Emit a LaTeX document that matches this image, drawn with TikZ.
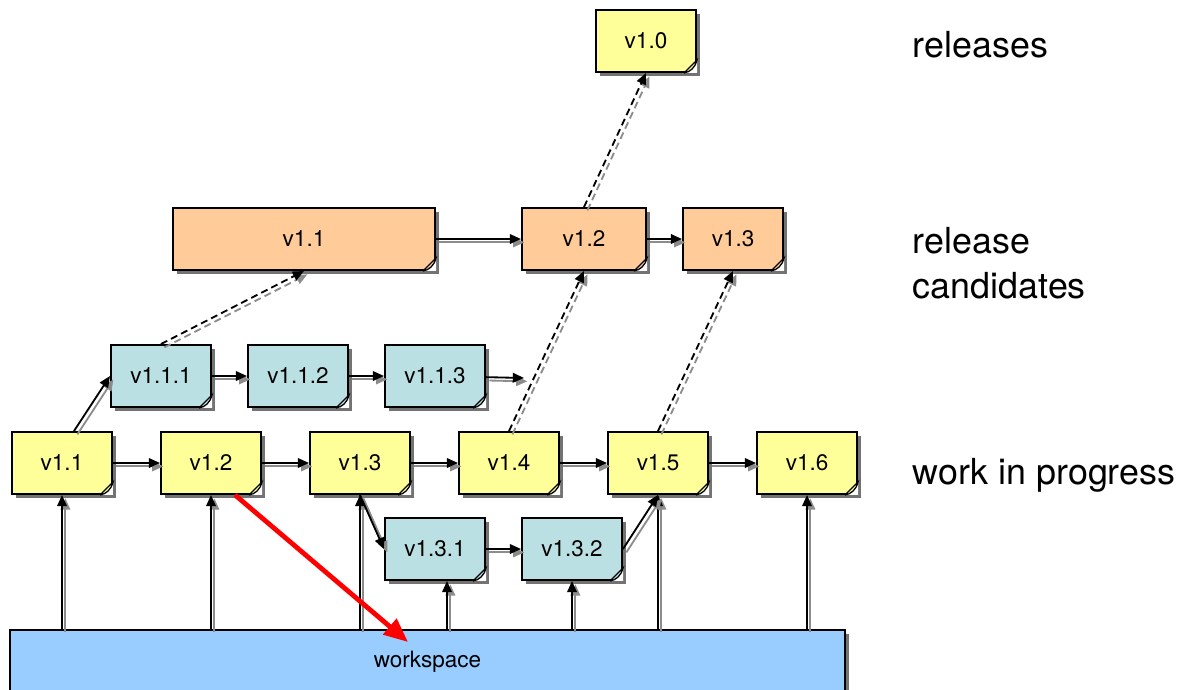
\documentclass[tikz,border=0pt]{standalone}
\usepackage{fontspec}
\setmainfont{TeX Gyre Heros}
\usetikzlibrary{arrows.meta,shadows,calc}

\definecolor{wipyellow}{RGB}{255,255,153}
\definecolor{rcorange}{RGB}{255,204,153}
\definecolor{brteal}{RGB}{187,224,227}
\definecolor{wsblue}{RGB}{153,204,255}

\tikzset{
  card/.style={draw, line width=1.4pt, inner sep=0pt, minimum width=2.5cm, minimum height=1.55cm,
    font=\fontsize{16}{19}\selectfont,
    drop shadow={shadow xshift=0.1cm, shadow yshift=-0.1cm, fill=black!55, opacity=1}},
  wip/.style={card, fill=wipyellow},
  branch/.style={card, fill=brteal},
  cand/.style={card, fill=rcorange},
  lbl/.style={anchor=west, align=left, font=\fontsize{25.5}{32}\selectfont},
  conn/.style={line width=1.3pt, -{Triangle[length=2.8mm,width=2.4mm]},
    preaction={draw=black!45, line width=1.3pt, transform canvas={shift={(2.4pt,-2.4pt)}}}},
  promote/.style={line width=1.3pt, -{Triangle[length=2.8mm,width=2.4mm]}, dash pattern=on 5pt off 3pt,
    preaction={draw=black!45, line width=1.3pt, dash pattern=on 5pt off 3pt,
      transform canvas={shift={(2.4pt,-2.4pt)}}}},
}

% folded corner at the bottom right of a card
\newcommand{\fold}[2]{%
  \fill[white] ($(#1.south east)+(-13,0)$) -- (#1.south east) -- ($(#1.south east)+(0,-13)$) -- cycle;
  \filldraw[fill=#2, line width=0.9pt] ($(#1.south east)+(-13,0)$) -- ($(#1.south east)+(0,-13)$)
    .. controls ($(#1.south east)+(-2,-5)$) and ($(#1.south east)+(-7,-1)$) .. ($(#1.south east)+(-13,0)$);
}

\begin{document}
\begin{tikzpicture}[x=0.025cm, y=-0.025cm]
  \useasboundingbox (0,0) rectangle (1194,689);

  % workspace
  \node[card, fill=wsblue, minimum width=20.875cm, minimum height=1.6cm] (ws) at (427.5,662) {workspace};

  % work in progress
  \node[wip] (wv11) at (62,463) {v1.1};
  \node[wip] (wv12) at (211,463) {v1.2};
  \node[wip] (wv13) at (360,463) {v1.3};
  \node[wip] (wv14) at (509,463) {v1.4};
  \node[wip] (wv15) at (658,463) {v1.5};
  \node[wip] (wv16) at (807,463) {v1.6};

  % branches
  \node[branch] (bv111) at (161,376) {v1.1.1};
  \node[branch] (bv112) at (298,376) {v1.1.2};
  \node[branch] (bv113) at (435,376) {v1.1.3};
  \node[branch] (bv131) at (435,549) {v1.3.1};
  \node[branch] (bv132) at (572,549) {v1.3.2};
  \coordinate (bnext) at (524,378);

  % release candidates
  \node[cand, minimum width=6.55cm] (rc11) at (304,239) {v1.1};
  \node[cand, minimum width=3.1cm] (rc12) at (584,239) {v1.2};
  \node[cand] (rc13) at (733,239) {v1.3};

  % releases
  \node[wip] (rel10) at (646,41) {v1.0};

  \foreach \n in {wv11,wv12,wv13,wv14,wv15,wv16,rel10} \fold{\n}{wipyellow};
  \foreach \n in {bv111,bv112,bv113,bv131,bv132} \fold{\n}{brteal};
  \foreach \n in {rc11,rc12,rc13} \fold{\n}{rcorange};

  \node[lbl] (lrel) at (908,45) {releases};
  \node[lbl] (lrc) at (908,263) {release\\candidates};
  \node[lbl] (lwip) at (908,475) {work in progress};

  % check-ins
  \foreach \n in {wv11,wv12,wv13,bv132,wv15,wv16}
    \draw[conn] (\n.south |- ws.north) -- (\n.south);
  \draw[conn] ([xshift=0.3cm]bv131.south |- ws.north) -- ([xshift=0.3cm]bv131.south);

  % history
  \draw[conn] (wv11) -- (wv12);
  \draw[conn] (wv12) -- (wv13);
  \draw[conn] (wv13) -- (wv14);
  \draw[conn] (wv14) -- (wv15);
  \draw[conn] (wv15) -- (wv16);
  \draw[conn] ([xshift=0.3cm]wv11.north) -- (bv111.west);
  \draw[conn] (bv111) -- (bv112);
  \draw[conn] (bv112) -- (bv113);
  \draw[conn] (bv113) -- (bnext);
  \draw[conn] (wv13.south) -- (bv131.west);
  \draw[conn] (bv131) -- (bv132);
  \draw[conn] (bv132.east) -- (wv15.south);
  \draw[conn] (rc11) -- (rc12);
  \draw[conn] (rc12) -- (rc13);

  % promotions
  \draw[promote] (bv111.north) -- (rc11.south);
  \draw[promote] (wv14.north) -- (rc12.south);
  \draw[promote] (wv15.north) -- (rc13.south);
  \draw[promote] (rc12.north) -- (rel10.south);

  % checkout
  \coordinate (wsdrop) at (408,642);
  \draw[red, line width=3.4pt, -{Triangle[length=6mm,width=5mm]}] ([xshift=0.6cm]wv12.south) -- (wsdrop);
\end{tikzpicture}
\end{document}
